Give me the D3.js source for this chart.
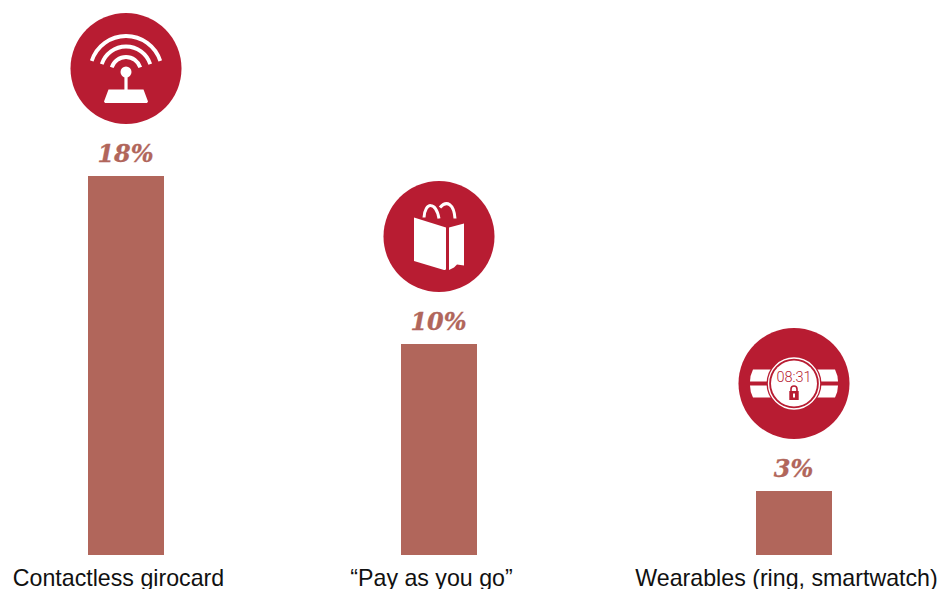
<!DOCTYPE html>
<meta charset="utf-8">
<style>
body { margin: 0; background: #fff; }
svg { display: block; }
.bar { fill: #b1665b; }
.value { fill: #b1665b; stroke: #b1665b; stroke-width: 0.3; font: italic bold 24px "DejaVu Serif"; text-anchor: middle; }
.badge { fill: #b81c32; }
.cat text { font: 23.2px "Liberation Sans"; fill: #111; }
</style>
<svg width="938" height="589"></svg>
<script src="https://d3js.org/d3.v7.min.js"></script>
<script>

var categories = ["Contactless girocard", "\u201cPay as you go\u201d", "Wearables (ring, smartwatch)"];
var values = [18, 10, 3];
var icons = ["wifi", "bag", "watch"];

var canvas = d3.select("svg"),
    baseline = 555;

// columns are not evenly spaced in the original, so ordinal and not band
var x = d3.scaleOrdinal().domain(categories).range([126, 439, 794]),
    yScale = d3.scaleLinear().domain([0, 18]).range([baseline, 176]);

function y(v) { return Math.floor(yScale(v)); }

var barWidth = 76;

canvas.selectAll(".bar")
    .data(categories)
    .enter()
    .append("rect")
      .attr("class", "bar")
      .attr("x", function(d) { return x(d) - barWidth / 2; })
      .attr("y", function(d, i) { return y(values[i]); })
      .attr("width", barWidth)
      .attr("height", function(d, i) { return baseline - y(values[i]); });

canvas.selectAll(".value")
    .data(categories)
    .enter()
    .append("text")
      .attr("class", "value")
      .attr("x", function(d) { return x(d) - 0.5; })
      .attr("y", function(d, i) { return y(values[i]) - 14.5; })
      .text(function(d, i) { return values[i] + "%"; });

var axis = canvas.append("g")
    .attr("class", "cat")
    .attr("transform", "translate(0," + baseline + ")")
    .call(d3.axisBottom(x).tickSize(0));
axis.select(".domain").remove();
// labels sit a little left of their bars in the original
axis.selectAll("text").attr("x", -8).attr("y", 31).attr("dy", 0);

var badges = canvas.selectAll(".icon")
    .data(categories)
    .enter()
    .append("g")
      .attr("class", "icon")
      .attr("transform", function(d, i) { return "translate(" + x(d) + "," + (y(values[i]) - 107.5) + ")"; });

badges.append("circle").attr("class", "badge").attr("r", 55.5);

badges.each(function(d, i) {
  var g = d3.select(this);
  if (icons[i] == "wifi") wifi(g);
  if (icons[i] == "bag") bag(g);
  if (icons[i] == "watch") watch(g);
});

function wifi(g) {
  var a = 72 * Math.PI / 180;
  [36, 25.5, 15].forEach(function(r) {
    g.append("path")
      .attr("transform", "translate(0,3.5)")
      .attr("d", d3.arc()({innerRadius: r, outerRadius: r, startAngle: -a, endAngle: a}))
      .attr("fill", "none")
      .attr("stroke", "#fff")
      .attr("stroke-width", 3.8)
      .attr("stroke-linecap", "round");
  });
  g.append("circle").attr("cy", 3.5).attr("r", 5.5).attr("fill", "#fff");
  g.append("rect").attr("x", -1.6).attr("y", 4).attr("width", 3.2).attr("height", 18).attr("fill", "#fff");
  g.append("path").attr("d", "M-17.5,21L17.5,21L22,33L21,34.5L-21,34.5L-22,33Z").attr("fill", "#fff");
}

function bag(g) {
  g.append("path").attr("d", "M-25,-19L7,-9L7,32Q7,34 5,33.5L-25,24.5Z").attr("fill", "#fff");
  g.append("path").attr("d", "M10,-9L25,-13L25,29L18,28L15,31L10,33.5Z").attr("fill", "#fff");
  ["M-15,-19C-14,-35 -3,-35 0,-18", "M1,-29C8,-37 15,-32 16,-18"].forEach(function(p) {
    g.append("path").attr("d", p)
      .attr("fill", "none").attr("stroke", "#fff").attr("stroke-width", 3);
  });
}

function watch(g) {
  [-1, 1].forEach(function(s) {
    g.append("path")
      .attr("d", "M" + s * 20 + ",-14L" + s * 41 + ",-14Q" + s * 44 + ",-8 " + s * 44 + ",-2L" + s * 20 + ",-2Z")
      .attr("fill", "#fff");
    g.append("path")
      .attr("d", "M" + s * 20 + ",14L" + s * 41 + ",14Q" + s * 44 + ",8 " + s * 44 + ",2L" + s * 20 + ",2Z")
      .attr("fill", "#fff");
  });
  g.append("circle").attr("r", 27.5).attr("fill", "#b81c32");
  g.append("circle").attr("r", 25.5).attr("fill", "none").attr("stroke", "#fff").attr("stroke-width", 1.3);
  g.append("circle").attr("r", 23).attr("fill", "#fff");
  g.append("text").attr("y", -2).attr("text-anchor", "middle")
    .attr("font-family", "Roboto").attr("font-weight", 300).attr("font-size", 14.5).attr("fill", "#b81c32").text("08:31");
  g.append("path").attr("d", "M-3,7.5L-3,5.5A3,3 0 0 1 3,5.5L3,7.5").attr("fill", "none").attr("stroke", "#b81c32").attr("stroke-width", 1.6);
  g.append("rect").attr("x", -4.7).attr("y", 7.5).attr("width", 9.4).attr("height", 9).attr("fill", "#b81c32");
  g.append("rect").attr("x", -1).attr("y", 10).attr("width", 2).attr("height", 4).attr("fill", "#fff");
}

</script>
